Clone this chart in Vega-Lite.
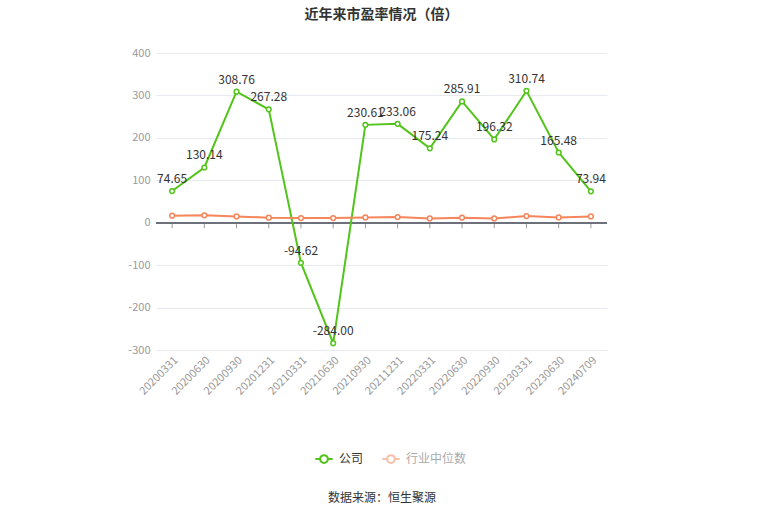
{
  "$schema": "https://vega.github.io/schema/vega-lite/v6.json",
  "autosize": "none",
  "width": 451,
  "height": 297,
  "padding": {"left": 156, "top": 53, "right": 158, "bottom": 167},
  "background": "white",
  "title": {
    "text": "近年来市盈率情况（倍）",
    "anchor": "middle",
    "fontSize": 14,
    "fontWeight": "bold",
    "color": "#333333",
    "font": "Noto Sans CJK SC",
    "offset": 25
  },
  "data": {
    "values": [
      {"date": "20200331", "series": "公司", "value": 74.65},
      {"date": "20200630", "series": "公司", "value": 130.14},
      {"date": "20200930", "series": "公司", "value": 308.76},
      {"date": "20201231", "series": "公司", "value": 267.28},
      {"date": "20210331", "series": "公司", "value": -94.62},
      {"date": "20210630", "series": "公司", "value": -284.00},
      {"date": "20210930", "series": "公司", "value": 230.61},
      {"date": "20211231", "series": "公司", "value": 233.06},
      {"date": "20220331", "series": "公司", "value": 175.24},
      {"date": "20220630", "series": "公司", "value": 285.91},
      {"date": "20220930", "series": "公司", "value": 196.32},
      {"date": "20230331", "series": "公司", "value": 310.74},
      {"date": "20230630", "series": "公司", "value": 165.48},
      {"date": "20240709", "series": "公司", "value": 73.94},
      {"date": "20200331", "series": "行业中位数", "value": 16.5},
      {"date": "20200630", "series": "行业中位数", "value": 17.3},
      {"date": "20200930", "series": "行业中位数", "value": 14.9},
      {"date": "20201231", "series": "行业中位数", "value": 11.8},
      {"date": "20210331", "series": "行业中位数", "value": 11.0},
      {"date": "20210630", "series": "行业中位数", "value": 11.0},
      {"date": "20210930", "series": "行业中位数", "value": 12.5},
      {"date": "20211231", "series": "行业中位数", "value": 13.3},
      {"date": "20220331", "series": "行业中位数", "value": 10.2},
      {"date": "20220630", "series": "行业中位数", "value": 11.8},
      {"date": "20220930", "series": "行业中位数", "value": 10.2},
      {"date": "20230331", "series": "行业中位数", "value": 15.7},
      {"date": "20230630", "series": "行业中位数", "value": 12.5},
      {"date": "20240709", "series": "行业中位数", "value": 14.9}
    ]
  },
  "encoding": {
    "x": {
      "field": "date",
      "type": "ordinal",
      "scale": {"paddingInner": 0, "paddingOuter": 0},
      "axis": {
        "title": "数据来源：恒生聚源",
        "titleY": 147,
        "titleBaseline": "middle",
        "titleFontSize": 12,
        "titleFontWeight": "normal",
        "titleColor": "#333333",
        "titleFont": "Noto Sans CJK SC",
        "labelAngle": -45,
        "labelAlign": "right",
        "labelBaseline": "top",
        "labelFontSize": 11,
        "labelColor": "#999999",
        "labelFont": "Noto Sans CJK SC",
        "labelPadding": 4,
        "domain": false,
        "ticks": false,
        "grid": false
      }
    },
    "y": {
      "field": "value",
      "type": "quantitative",
      "scale": {"domain": [-300, 400], "nice": false},
      "axis": {
        "title": null,
        "values": [-300, -200, -100, 0, 100, 200, 300, 400],
        "labelExpr": "replace(datum.label, '−', '-')",
        "labelColor": "#999999",
        "labelFontSize": 11,
        "labelFont": "Noto Sans CJK SC",
        "labelPadding": 6,
        "domain": false,
        "ticks": false,
        "gridColor": "#e6e9f0"
      }
    }
  },
  "layer": [
    {
      "mark": {"type": "rule", "color": "#6e7079", "strokeWidth": 1},
      "encoding": {
        "x": null,
        "y": {"datum": 0, "type": "quantitative"}
      }
    },
    {
      "transform": [{"filter": "datum.series === '公司'"}],
      "mark": {"type": "tick", "orient": "vertical", "color": "#6e7079", "size": 5, "thickness": 1, "yOffset": 3},
      "encoding": {
        "y": {"datum": 0, "type": "quantitative"}
      }
    },
    {
      "mark": {"type": "line", "strokeWidth": 2, "point": {"filled": false, "fill": "white", "size": 22, "strokeWidth": 1.5}},
      "encoding": {
        "color": {
          "field": "series",
          "type": "nominal",
          "scale": {"domain": ["公司", "行业中位数"], "range": ["#52c41a", "#f5855a"]},
          "legend": {
            "title": null,
            "orient": "none",
            "legendX": 158,
            "legendY": 396,
            "direction": "horizontal",
            "symbolType": "M-1,0L-0.45,0M0.45,0L1,0M0.45,0A0.45,0.45 0 1,1 -0.45,0A0.45,0.45 0 1,1 0.45,0",
            "symbolSize": 300,
            "symbolStrokeWidth": 2,
            "symbolFillColor": "white",
            "labelFontSize": 12,
            "labelFont": "Noto Sans CJK SC",
            "labelColor": "#333333",
            "columnPadding": 14,
            "labelOffset": 5,
            "encode": {
              "symbols": {"update": {"fill": {"value": "white"}, "opacity": {"signal": "datum.value === '行业中位数' ? 0.5 : 1"}}},
              "labels": {"update": {"fill": {"signal": "datum.value === '行业中位数' ? '#aaaaaa' : '#333333'"}}}
            }
          }
        }
      }
    },
    {
      "transform": [
        {"filter": "datum.series === '公司'"},
        {"calculate": "replace(format(datum.value, '.2f'), '−', '-')", "as": "label"}
      ],
      "mark": {"type": "text", "dy": -12, "fontSize": 12, "color": "#333333", "font": "Noto Sans CJK SC"},
      "encoding": {
        "text": {"field": "label", "type": "nominal"}
      }
    }
  ],
  "config": {"view": {"stroke": null}}
}
